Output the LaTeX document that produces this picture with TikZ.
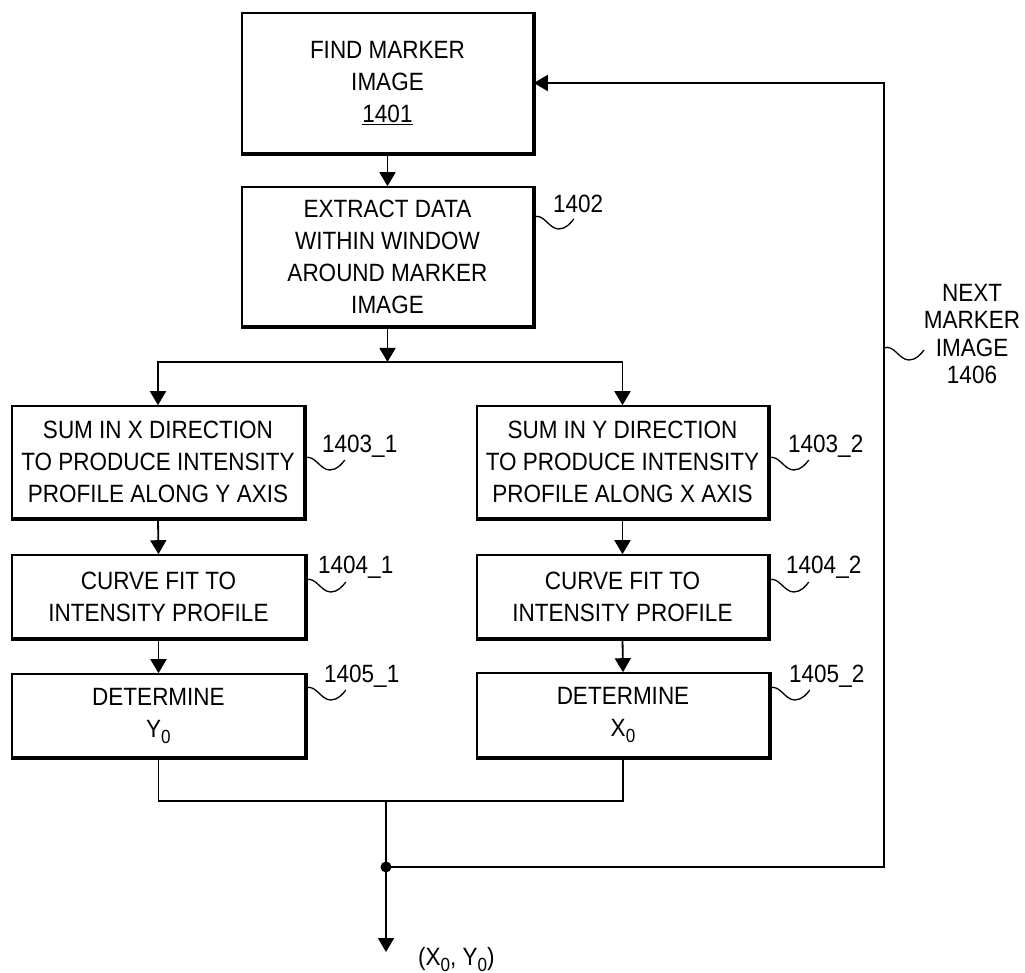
\documentclass[tikz,border=0pt]{standalone}
\usepackage{fontspec}
\setmainfont{Liberation Sans}[FakeStretch=0.9]
\usetikzlibrary{arrows.meta}
\newcommand\subz[1]{\raisebox{-6pt}{\fontsize{19}{19}\selectfont #1}}
\begin{document}
\begin{tikzpicture}[x=1pt,y=-1pt,
  box/.style={draw, line width=1.6pt, align=center, inner sep=0pt, font=\fontsize{25}{32}\selectfont},
  lbl/.style={anchor=base west, inner sep=0pt, font=\fontsize{25}{30}\selectfont},
  conn/.style={line width=1.8pt},
  arr/.style={conn, -{Triangle[width=16pt,length=14pt]}},
  thickedge/.style={line width=4pt, line cap=square},
  dotnode/.style={circle, fill, inner sep=0pt, minimum size=11pt},
  tilde/.pic={\draw[line width=1.3pt] (0,0) .. controls (10,-4) and (15,12) .. (25,12) .. controls (32,12) and (37,6) .. (40,2);}
]
\useasboundingbox[fill=white] (0,0) rectangle (1025,973);

\node[box, minimum width=291pt, minimum height=140pt] (b1401) at (387.5,83) {FIND MARKER\\IMAGE\\\underline{1401}};
\node[box, minimum width=291pt, minimum height=139pt] (b1402) at (387.5,256.5) {EXTRACT DATA\\WITHIN WINDOW\\AROUND MARKER\\IMAGE};
\node[box, minimum width=292pt, minimum height=112pt] (b1403a) at (158,462) {SUM IN X DIRECTION\\TO PRODUCE INTENSITY\\PROFILE ALONG Y AXIS};
\node[box, minimum width=291pt, minimum height=112pt] (b1403b) at (622.5,462) {SUM IN Y DIRECTION\\TO PRODUCE INTENSITY\\PROFILE ALONG X AXIS};
\node[box, minimum width=293pt, minimum height=83pt] (b1404a) at (158.5,596.5) {CURVE FIT TO\\INTENSITY PROFILE};
\node[box, minimum width=291pt, minimum height=83pt] (b1404b) at (622.5,596.5) {CURVE FIT TO\\INTENSITY PROFILE};
\node[box, minimum width=293pt, minimum height=83pt] (b1405a) at (158.5,715.5) {DETERMINE\\Y\subz{0}};
\node[box, minimum width=292pt, minimum height=84pt] (b1405b) at (623,715) {DETERMINE\\X\subz{0}};

\foreach \n in {b1401,b1402,b1403a,b1403b,b1404a,b1404b,b1405a,b1405b}
  \draw[thickedge] (\n.north east) -- (\n.south east) -- (\n.south west);

% connectors
\coordinate (split) at (387.5,362);
\draw[arr] (b1401.south) -- (b1402.north);
\draw[arr] (b1402.south) -- (split);
\draw[arr] (split) -| (b1403a.north);
\draw[arr] (split) -| (b1403b.north);
\draw[arr] (b1403a.south) -- (b1404a.north);
\draw[arr] (b1403b.south) -- (b1404b.north);
\draw[arr] (b1404a.south) -- (b1405a.north);
\draw[arr] (b1404b.south) -- (b1405b.north);

\coordinate (m) at (386,801);
\coordinate (out) at (386,952);
\coordinate (fb) at (884,867);
\draw[conn] (b1405a.south) |- (m) -| (b1405b.south);
\draw[arr] (m) -- (out);
\node[dotnode] (jn) at (386,867) {};
\draw[arr] (jn.center) -- (fb) |- (b1401.east);

% leaders
\pic at (b1402.east |- 0,217) {tilde};
\pic at (b1403a.east |- 0,458) {tilde};
\pic at (b1403b.east |- 0,458) {tilde};
\pic at (b1404a.east |- 0,580) {tilde};
\pic at (b1404b.east |- 0,580) {tilde};
\pic at (b1405a.east |- 0,688) {tilde};
\pic at (b1405b.east |- 0,688) {tilde};
\pic at (fb |- 0,348) {tilde};

% labels
\node[lbl] (l1402) at (553,213) {1402};
\node[lbl] (l1403a) at (322,452) {1403\_1};
\node[lbl] (l1403b) at (788,452) {1403\_2};
\node[lbl] (l1404a) at (318,573) {1404\_1};
\node[lbl] (l1404b) at (786,573) {1404\_2};
\node[lbl] (l1405a) at (324,682) {1405\_1};
\node[lbl] (l1405b) at (789,682) {1405\_2};
\node[align=center, inner sep=0pt, font=\fontsize{25}{27.3}\selectfont] (l1406) at (972,334) {NEXT\\MARKER\\IMAGE\\1406};
\node[lbl] (lout) at (418,965) {(X\subz{0}, Y\subz{0})};
\end{tikzpicture}
\end{document}
